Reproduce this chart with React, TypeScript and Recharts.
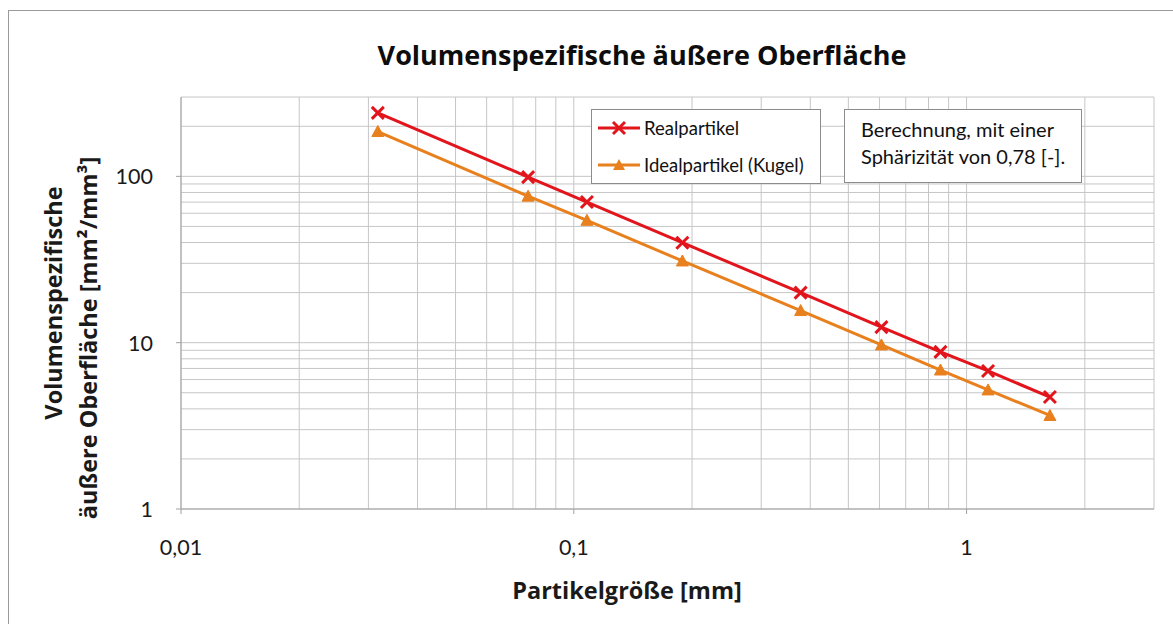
import { LineChart, Line, XAxis, YAxis, CartesianGrid, Legend } from "recharts";

// Partikelgröße [mm] und volumenspezifische Oberfläche [mm²/mm³]
const partikelgroesse = [0.0317, 0.0765, 0.108, 0.189, 0.378, 0.607, 0.858, 1.134, 1.63];
const realpartikel = [241, 99, 70.1, 39.9, 20.0, 12.4, 8.8, 6.76, 4.71];
const idealpartikel = [186, 76, 54.4, 31.0, 15.6, 9.7, 6.85, 5.2, 3.65];

const xTicks = [
  0.01, 0.02, 0.03, 0.04, 0.05, 0.06, 0.07, 0.08, 0.09,
  0.1, 0.2, 0.3, 0.4, 0.5, 0.6, 0.7, 0.8, 0.9,
  1, 2, 3,
];
const yTicks = [1, 2, 3, 4, 5, 6, 7, 8, 9, 10, 20, 30, 40, 50, 60, 70, 80, 90, 100, 200, 300];
const xMajor = [0.01, 0.1, 1];
const yMajor = [1, 10, 100];

const RED = "#e2141c";
const ORANGE = "#e8801e";
const FONT = "Lato, 'Open Sans', sans-serif";
const BOLD_FONT = "'Open Sans', Lato, sans-serif";

const data = partikelgroesse.map((x, i) => ({
  x,
  real: realpartikel[i],
  ideal: idealpartikel[i],
}));

const fmt = (v: number) => String(v).replace(".", ",");

const XTick = (props: any) => {
  const { x, y, payload } = props;
  if (!xMajor.includes(payload.value)) return <g />;
  return (
    <g>
      <line x1={x} x2={x} y1={y} y2={y + 5} stroke="#a0a0a0" />
      <text x={x} y={y + 46} textAnchor="middle" fontFamily={FONT} fontSize={21.5} fill="#1a1a1a">
        {fmt(payload.value)}
      </text>
    </g>
  );
};

const YTick = (props: any) => {
  const { x, y, payload } = props;
  if (!yMajor.includes(payload.value)) return <g />;
  return (
    <g>
      <line x1={x - 5} x2={x} y1={y} y2={y} stroke="#a0a0a0" />
      <text x={x - 28} y={y + 8} textAnchor="end" fontFamily={FONT} fontSize={21.5} fill="#1a1a1a">
        {fmt(payload.value)}
      </text>
    </g>
  );
};

const CrossDot = (props: any) => {
  const { cx, cy, index } = props;
  const r = 6;
  return (
    <path
      key={"c" + index}
      d={`M${cx - r},${cy - r}L${cx + r},${cy + r}M${cx - r},${cy + r}L${cx + r},${cy - r}`}
      stroke={RED}
      strokeWidth={3}
      fill="none"
    />
  );
};

const TriangleDot = (props: any) => {
  const { cx, cy, index } = props;
  return (
    <path
      key={"t" + index}
      d={`M${cx},${cy - 6}L${cx + 6},${cy + 5}L${cx - 6},${cy + 5}Z`}
      fill={ORANGE}
      stroke={ORANGE}
      strokeWidth={1}
    />
  );
};

const renderLegend = () => (
  <div
    style={{
      width: 228,
      height: 73,
      border: "1px solid #8c8c8c",
      background: "#fff",
      fontFamily: FONT,
      fontSize: 18.5,
      color: "#111",
      boxSizing: "content-box",
    }}
  >
    {[
      { name: "Realpartikel", color: RED, kind: "cross" },
      { name: "Idealpartikel (Kugel)", color: ORANGE, kind: "tri" },
    ].map((e, i) => (
      <div key={e.name} style={{ position: "absolute", left: 6, top: i === 0 ? 8 : 45, display: "flex", alignItems: "center", height: 22 }}>
        <svg width={44} height={16} style={{ marginRight: 3 }}>
          <line x1={1} x2={43} y1={8} y2={8} stroke={e.color} strokeWidth={3} />
          {e.kind === "cross" ? (
            <path d="M16,2L28,14M16,14L28,2" stroke={e.color} strokeWidth={3} />
          ) : (
            <path d="M22,2L28,13L16,13Z" fill={e.color} />
          )}
        </svg>
        <span>{e.name}</span>
      </div>
    ))}
  </div>
);

export default function App() {
  return (
    <div style={{ position: "absolute", left: 0, top: 0, width: 1173, height: 624, background: "#fff", overflow: "hidden" }}>
      <div
        style={{
          position: "absolute",
          left: 8,
          top: 10,
          width: 1200,
          height: 700,
          borderTop: "1px solid #9a9a9a",
          borderLeft: "1px solid #9a9a9a",
        }}
      />
      <div style={{ position: "absolute", left: 0, top: 0 }}>
        <LineChart width={1173} height={624} data={data} margin={{ top: 97, right: 19, bottom: 75, left: 121 }}>
          <CartesianGrid stroke="#c6c6c6" strokeWidth={1} />
          <XAxis
            dataKey="x"
            type="number"
            scale="log"
            domain={[0.01, 3]}
            allowDataOverflow
            ticks={xTicks}
            interval={0}
            height={40}
            tickSize={0}
            tickMargin={0}
            tickLine={false}
            axisLine={{ stroke: "#a0a0a0" }}
            tick={<XTick />}
          />
          <YAxis
            type="number"
            scale="log"
            domain={[1, 300]}
            allowDataOverflow
            ticks={yTicks}
            interval={0}
            width={60}
            tickSize={0}
            tickMargin={0}
            tickLine={false}
            axisLine={{ stroke: "#a0a0a0" }}
            tick={<YTick />}
          />
          <Line
            dataKey="real"
            name="Realpartikel"
            type="linear"
            stroke={RED}
            strokeWidth={3}
            dot={CrossDot}
            activeDot={false}
            isAnimationActive={false}
          />
          <Line
            dataKey="ideal"
            name="Idealpartikel (Kugel)"
            type="linear"
            stroke={ORANGE}
            strokeWidth={3}
            dot={TriangleDot}
            activeDot={false}
            isAnimationActive={false}
          />
          <Legend
            layout="vertical"
            align="center"
            verticalAlign="middle"
            wrapperStyle={{ left: 591, top: 109, width: 230, height: 75 }}
            content={renderLegend}
          />
        </LineChart>
      </div>
      <div
        style={{
          position: "absolute",
          left: 844,
          top: 109,
          width: 238,
          height: 74,
          border: "1px solid #8c8c8c",
          background: "#fff",
          fontFamily: FONT,
          fontSize: 20,
          color: "#111",
          lineHeight: "27px",
          padding: "6px 0 0 16px",
          boxSizing: "border-box",
        }}
      >
        Berechnung, mit einer
        <br />
        Sphärizität von 0,78 [-].
      </div>
      <svg width={1173} height={624} style={{ position: "absolute", left: 0, top: 0, pointerEvents: "none" }}>
        <text x={642} y={65} textAnchor="middle" fontFamily={BOLD_FONT} fontWeight={700} fontSize={27} fill="#0d0d0d">
          Volumenspezifische äußere Oberfläche
        </text>
        <text x={627} y={599} textAnchor="middle" fontFamily={BOLD_FONT} fontWeight={700} fontSize={23.5} fill="#1a1a1a">
          Partikelgröße [mm]
        </text>
        <text x={62} y={303} transform="rotate(-90 62 303)" textAnchor="middle" fontFamily={BOLD_FONT} fontWeight={700} fontSize={23.5} fill="#1a1a1a">
          Volumenspezifische
        </text>
        <text x={97} y={338} transform="rotate(-90 97 338)" textAnchor="middle" fontFamily={BOLD_FONT} fontWeight={700} fontSize={23.5} fill="#1a1a1a">
          äußere Oberfläche [mm²/mm³]
        </text>
      </svg>
    </div>
  );
}
